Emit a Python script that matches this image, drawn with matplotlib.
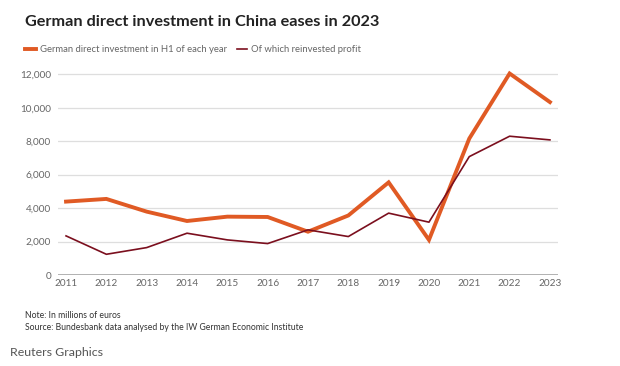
import matplotlib
matplotlib.use("Agg")
import matplotlib.pyplot as plt
from matplotlib.lines import Line2D

years = list(range(2011, 2024))
fdi = [4390, 4550, 3790, 3230, 3490, 3470, 2590, 3560, 5540, 2100, 8160, 12050, 10340]
reinvested = [2340, 1240, 1640, 2500, 2100, 1880, 2700, 2300, 3700, 3160, 7080, 8300, 8080]
yticks = [0, 2000, 4000, 6000, 8000, 10000, 12000]

FONT = "Lato"
ORANGE = "#e05a24"
DARK = "#7b0f1e"

fig = plt.figure(figsize=(6.2, 3.66), dpi=100)
ax = fig.add_axes([0.0935, 0.2486, 0.8065, 0.562])

ax.plot(years, fdi, color=ORANGE, lw=2.8, solid_joinstyle="miter", zorder=3)
ax.plot(years, reinvested, color=DARK, lw=1.2, zorder=4)

ax.set_xlim(2010.8, 2023.2)
ax.set_ylim(0, 12300)
ax.set_yticks(yticks)
ax.set_yticklabels([f"{v:,}" for v in yticks])
ax.set_xticks(years)
ax.set_xticklabels([str(y) for y in years])
for v in yticks[1:]:
    ax.axhline(v, color="#dedede", lw=0.9, zorder=1)
ax.axhline(0, color="#9a9a9a", lw=1.8, zorder=2)
for s in ax.spines.values():
    s.set_visible(False)
ax.tick_params(length=0, labelsize=7.2, labelcolor="#666666", pad=5)
ax.tick_params(axis="x", pad=3)
for lab in ax.get_xticklabels() + ax.get_yticklabels():
    lab.set_fontfamily(FONT)

fig.text(25/620, 1-22/366, "German direct investment in China eases in 2023",
         fontsize=11.7, fontweight="bold", family=FONT, color="#222222", va="center")

# legend
fig.add_artist(Line2D([25/620, 36/620], [1-49/366]*2, color=ORANGE, lw=2.8))
fig.text(40/620, 1-49/366, "German direct investment in H1 of each year",
         fontsize=6.8, family=FONT, color="#666666", va="center")
fig.add_artist(Line2D([237/620, 247/620], [1-49/366]*2, color=DARK, lw=1.2))
fig.text(251/620, 1-49/366, "Of which reinvested profit",
         fontsize=6.8, family=FONT, color="#666666", va="center")

fig.text(25/620, 1-315/366, "Note: In millions of euros", fontsize=6.2,
         family=FONT, color="#333333", va="center")
fig.text(25/620, 1-327/366, "Source: Bundesbank data analysed by the IW German Economic Institute",
         fontsize=6.2, family=FONT, color="#333333", va="center")
fig.text(10/620, 1-353/366, "Reuters Graphics", fontsize=8.9, family=FONT,
         color="#555555", va="center")

fig.savefig("out.png", dpi=100, facecolor="white")
